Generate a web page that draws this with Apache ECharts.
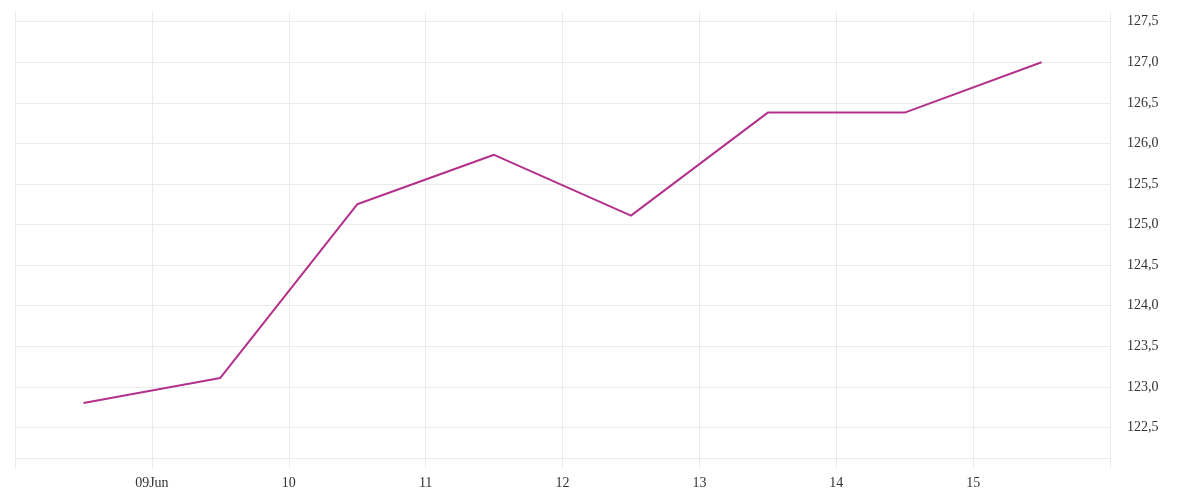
<!DOCTYPE html>
<html>
<head>
<meta charset="utf-8">
<script src="https://cdn.jsdelivr.net/npm/echarts@6/dist/echarts.min.js"></script>
<style>html,body{margin:0;padding:0;background:#fff}#c{width:1200px;height:500px}</style>
</head>
<body>
<div id="c"></div>
<script>
const dates = ['2021-06-08T12:00:00','2021-06-09T12:00:00','2021-06-10T12:00:00','2021-06-11T12:00:00','2021-06-12T12:00:00','2021-06-13T12:00:00','2021-06-14T12:00:00','2021-06-15T12:00:00'];
const values = [122.80, 123.11, 125.25, 125.86, 125.11, 126.38, 126.38, 127.00];
const xMin = '2021-06-08T00:00:00';
const xMax = '2021-06-16T00:00:00';
const yMin = 122.0, yMax = 127.62, yStep = 0.5;
const baseLineValue = 122.12;

const chart = echarts.init(document.getElementById('c'), null, {renderer:'canvas'});
const font = "'Liberation Serif', 'DejaVu Serif', serif";
const tMin = new Date(xMin).getTime(), tMax = new Date(xMax).getTime();
chart.setOption({
  animation:false,
  grid:{left:15, right:90, top:12, bottom:32},
  xAxis:{
    type:'time',
    min:tMin,
    max:tMax,
    interval:86400000,
    axisLine:{show:false},
    axisTick:{show:false},
    splitLine:{show:true, lineStyle:{color:'#ebebeb', width:1}},
    axisLabel:{
      showMinLabel:false, showMaxLabel:false,
      color:'#333', fontFamily:font, fontSize:14, margin:8,
      formatter:function(v){ if (v<=tMin || v>=tMax) return ''; const d=new Date(v); const day=d.getDate(); return day===9 ? '09Jun' : String(day); }
    }
  },
  yAxis:{
    type:'value', position:'right',
    min:yMin, max:yMax, interval:yStep,
    axisLine:{show:false}, axisTick:{show:false},
    splitLine:{show:true, showMinLine:false, showMaxLine:false, lineStyle:{color:'#ebebeb', width:1}},
    axisLabel:{
      showMinLabel:false, showMaxLabel:false,
      color:'#333', fontFamily:font, fontSize:14, margin:17,
      formatter:function(v){ if (v<=yMin || v>=yMax) return ''; return v.toFixed(1).replace('.', ','); }
    }
  },
  series:[{
    type:'line',
    data:dates.map((d,i)=>[new Date(d).getTime(), values[i]]),
    symbol:'none',
    lineStyle:{color:'#b3318a', width:2},
    markLine:{
      silent:true, symbol:['none','none'], label:{show:false},
      lineStyle:{color:'#ebebeb', width:1, type:'solid'},
      data:[{yAxis:baseLineValue}]
    }
  }]
});
</script>
</body>
</html>
